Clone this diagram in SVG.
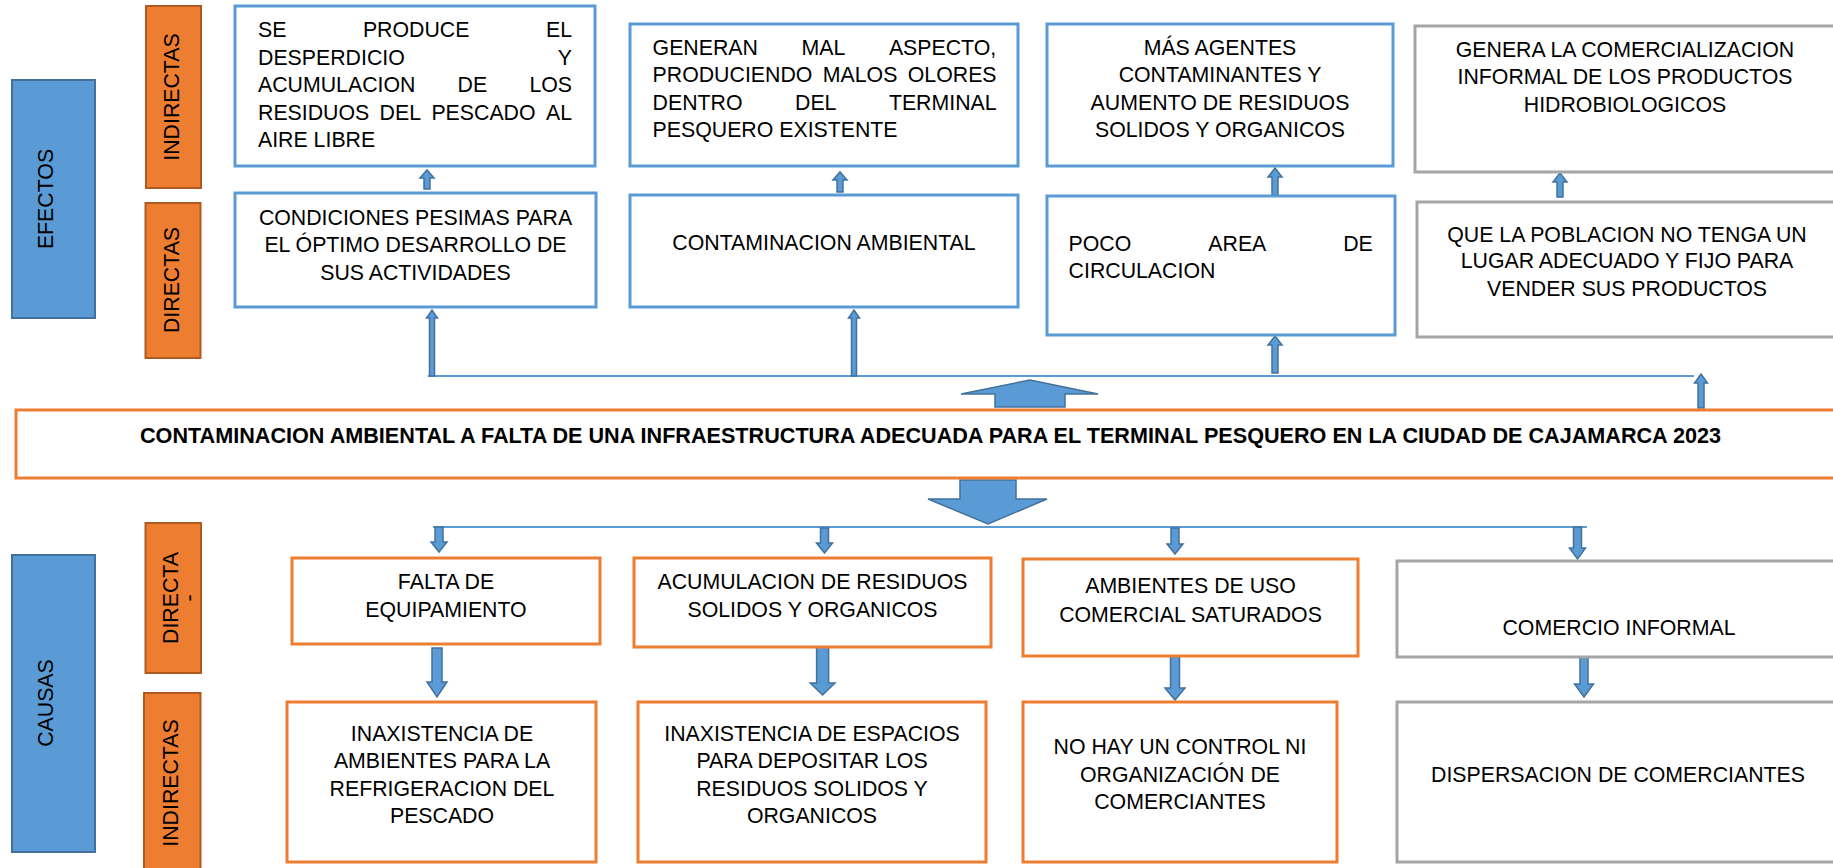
<svg xmlns="http://www.w3.org/2000/svg" width="1833" height="868" viewBox="0 0 1833 868">
<style>
text{font-family:"Liberation Sans",Arial,sans-serif;font-size:21.3px;fill:#000}
.c{text-anchor:middle}
.lblB{fill:#5b9bd5;stroke:#41719c;stroke-width:2}
.lblO{fill:#ed7d31;stroke:#ae5a21;stroke-width:2}
.bb{fill:#fff;stroke:#5b9bd5;stroke-width:3}
.ob{fill:#fff;stroke:#ed7d31;stroke-width:3}
.gb{fill:#fff;stroke:#a5a5a5;stroke-width:3}
.ln{fill:none;stroke:#5b9bd5;stroke-width:2}
.ar{fill:#5b9bd5;stroke:#41719c;stroke-width:1.5;stroke-linejoin:miter}
.title{font-weight:bold}
</style>
<rect width="1833" height="868" fill="#fff"/>

<g id="label-efectos"><rect class="lblB" x="12" y="80" width="83" height="238"/><text class="c" transform="translate(53.4,199) rotate(-90)">EFECTOS</text></g>
<g id="label-causas"><rect class="lblB" x="12" y="555" width="83" height="297"/><text class="c" transform="translate(53.4,703) rotate(-90)">CAUSAS</text></g>
<g id="label-ef-indirectas"><rect class="lblO" x="146" y="6" width="55" height="182"/><text class="c" transform="translate(178.7,97) rotate(-90)">INDIRECTAS</text></g>
<g id="label-ef-directas"><rect class="lblO" x="145.5" y="203" width="55" height="155"/><text class="c" transform="translate(178.7,280) rotate(-90)">DIRECTAS</text></g>
<g id="label-ca-directa"><rect class="lblO" x="145.5" y="523" width="55.5" height="150"/><text class="c" transform="translate(178,598) rotate(-90)">DIRECTA</text><text class="c" transform="translate(196,598) rotate(-90)">-</text></g>
<g id="label-ca-indirectas"><rect class="lblO" x="144" y="693" width="56.5" height="190"/><text class="c" transform="translate(178,783) rotate(-90)">INDIRECTAS</text></g>

<g id="connectors">
<path class="ln" d="M428 376H1694M433 527H1587"/>
<polygon class="ar" points="424,189 424,178 420,178 427,170 434,178 430,178 430,189"/>
<polygon class="ar" points="837,192 837,180 833,180 840,172 847,180 843,180 843,192"/>
<polygon class="ar" points="1272,195 1272,177 1268,177 1275,168 1282,177 1278,177 1278,195"/>
<polygon class="ar" points="1557,197 1557,182 1553,182 1560,173 1567,182 1563,182 1563,197"/>
<polygon class="ar" points="429.5,376 429.5,318 426.5,318 432,310 437.5,318 434.5,318 434.5,376"/>
<polygon class="ar" points="851.5,376 851.5,318 848.5,318 854,310 859.5,318 856.5,318 856.5,376"/>
<polygon class="ar" points="1272,373 1272,345 1268,345 1275,336 1282,345 1278,345 1278,373"/>
<polygon class="ar" points="1698,408 1698,383 1694.5,383 1701,374 1707.5,383 1704,383 1704,408"/>
<polygon class="ar" points="995,407 995,394 961,394 1030,380 1098,394 1065,394 1065,407"/>
<polygon class="ar" points="960,480 1016,480 1016,499 1047,499 988,524 928,499 960,499"/>
<polygon class="ar" points="435,527 443,527 443,542 447,542 439,552 431,542 435,542"/>
<polygon class="ar" points="820.5,528 828.5,528 828.5,543 832.5,543 824.5,553 816.5,543 820.5,543"/>
<polygon class="ar" points="1171,528 1179,528 1179,544 1183,544 1175,554 1167,544 1171,544"/>
<polygon class="ar" points="1573.5,527 1581.5,527 1581.5,548 1585.5,548 1577.5,559 1569.5,548 1573.5,548"/>
<polygon class="ar" points="432,648 442,648 442,682 447,682 437,697 427,682 432,682"/>
<polygon class="ar" points="816.6,647 828.6,647 828.6,683 835,683 822.6,695 810.2,683 816.6,683"/>
<polygon class="ar" points="1170.5,653 1179.5,653 1179.5,688 1185,688 1175,700 1165,688 1170.5,688"/>
<polygon class="ar" points="1580,657 1588,657 1588,684 1593.5,684 1584,697 1574.5,684 1580,684"/>
</g>

<g id="ef-ind-1"><rect class="bb" x="235" y="6" width="360" height="160"/>
<text y="37.3"><tspan x="258">SE</tspan><tspan x="362.9">PRODUCE</tspan><tspan x="546">EL</tspan></text>
<text y="65"><tspan x="258">DESPERDICIO</tspan><tspan x="557.8">Y</tspan></text>
<text y="92.3"><tspan x="258">ACUMULACION</tspan><tspan x="457.6">DE</tspan><tspan x="529.4">LOS</tspan></text>
<text y="120"><tspan x="258">RESIDUOS</tspan><tspan x="379.6">DEL</tspan><tspan x="431.4">PESCADO</tspan><tspan x="546">AL</tspan></text>
<text x="258" y="147.3">AIRE LIBRE</text></g>

<g id="ef-ind-2"><rect class="bb" x="630" y="24" width="388" height="142"/>
<text y="55"><tspan x="652.6">GENERAN</tspan><tspan x="801.5">MAL</tspan><tspan x="888.9">ASPECTO,</tspan></text>
<text y="82"><tspan x="652.6">PRODUCIENDO</tspan><tspan x="822.8">MALOS</tspan><tspan x="907.8">OLORES</tspan></text>
<text y="109.5"><tspan x="652.6">DENTRO</tspan><tspan x="795">DEL</tspan><tspan x="888.9">TERMINAL</tspan></text>
<text x="652.6" y="136.5">PESQUERO EXISTENTE</text></g>

<g id="ef-ind-3"><rect class="bb" x="1047" y="24" width="346" height="142"/>
<text class="c" x="1220" y="55">MÁS AGENTES</text>
<text class="c" x="1220" y="82">CONTAMINANTES Y</text>
<text class="c" x="1220" y="109.5">AUMENTO DE RESIDUOS</text>
<text class="c" x="1220" y="136.5">SOLIDOS Y ORGANICOS</text></g>

<g id="ef-ind-4"><rect class="gb" x="1415" y="26" width="440" height="146"/>
<text class="c" x="1625" y="57.3">GENERA LA COMERCIALIZACION</text>
<text class="c" x="1625" y="84">INFORMAL DE LOS PRODUCTOS</text>
<text class="c" x="1625" y="112">HIDROBIOLOGICOS</text></g>

<g id="ef-dir-1"><rect class="bb" x="235" y="193" width="361" height="114"/>
<text class="c" x="415.5" y="224.5">CONDICIONES PESIMAS PARA</text>
<text class="c" x="415.5" y="252">EL ÓPTIMO DESARROLLO DE</text>
<text class="c" x="415.5" y="279.5">SUS ACTIVIDADES</text></g>

<g id="ef-dir-2"><rect class="bb" x="630" y="195" width="388" height="112"/>
<text class="c" x="824" y="250">CONTAMINACION AMBIENTAL</text></g>

<g id="ef-dir-3"><rect class="bb" x="1047" y="196" width="348" height="139"/>
<text y="250.5"><tspan x="1068.6">POCO</tspan><tspan x="1208.3">AREA</tspan><tspan x="1343.2">DE</tspan></text>
<text x="1068.6" y="278">CIRCULACION</text></g>

<g id="ef-dir-4"><rect class="gb" x="1417" y="202" width="440" height="135"/>
<text class="c" x="1627" y="241.7">QUE LA POBLACION NO TENGA UN</text>
<text class="c" x="1627" y="268.3">LUGAR ADECUADO Y FIJO PARA</text>
<text class="c" x="1627" y="295.7">VENDER SUS PRODUCTOS</text></g>

<g id="problema"><rect class="ob" x="16" y="410" width="1840" height="68"/>
<text class="c title" x="930.5" y="443.3" textLength="1581" lengthAdjust="spacingAndGlyphs">CONTAMINACION AMBIENTAL A FALTA DE UNA INFRAESTRUCTURA ADECUADA PARA EL TERMINAL PESQUERO EN LA CIUDAD DE CAJAMARCA 2023</text></g>

<g id="ca-dir-1"><rect class="ob" x="292" y="558" width="308" height="86"/>
<text class="c" x="446" y="589.3">FALTA DE</text>
<text class="c" x="446" y="617">EQUIPAMIENTO</text></g>

<g id="ca-dir-2"><rect class="ob" x="634" y="558" width="357" height="89"/>
<text class="c" x="812.5" y="589.3">ACUMULACION DE RESIDUOS</text>
<text class="c" x="812.5" y="617">SOLIDOS Y ORGANICOS</text></g>

<g id="ca-dir-3"><rect class="ob" x="1023" y="559" width="335" height="97"/>
<text class="c" x="1190.5" y="593.3">AMBIENTES DE USO</text>
<text class="c" x="1190.5" y="621.5">COMERCIAL SATURADOS</text></g>

<g id="ca-dir-4"><rect class="gb" x="1397" y="561" width="460" height="96"/>
<text class="c" x="1619" y="635">COMERCIO INFORMAL</text></g>

<g id="ca-ind-1"><rect class="ob" x="287" y="702" width="309" height="160"/>
<text class="c" x="442" y="740.7">INAXISTENCIA DE</text>
<text class="c" x="442" y="768.3">AMBIENTES PARA LA</text>
<text class="c" x="442" y="795.5">REFRIGERACION DEL</text>
<text class="c" x="442" y="822.7">PESCADO</text></g>

<g id="ca-ind-2"><rect class="ob" x="638" y="702" width="348" height="160"/>
<text class="c" x="812" y="740.7">INAXISTENCIA DE ESPACIOS</text>
<text class="c" x="812" y="768.3">PARA DEPOSITAR LOS</text>
<text class="c" x="812" y="795.5">RESIDUOS SOLIDOS Y</text>
<text class="c" x="812" y="822.7">ORGANICOS</text></g>

<g id="ca-ind-3"><rect class="ob" x="1023" y="702" width="314" height="160"/>
<text class="c" x="1180" y="754">NO HAY UN CONTROL NI</text>
<text class="c" x="1180" y="781.7">ORGANIZACIÓN DE</text>
<text class="c" x="1180" y="808.5">COMERCIANTES</text></g>

<g id="ca-ind-4"><rect class="gb" x="1397" y="702" width="460" height="160"/>
<text class="c" x="1618" y="781.7">DISPERSACION DE COMERCIANTES</text></g>
</svg>
